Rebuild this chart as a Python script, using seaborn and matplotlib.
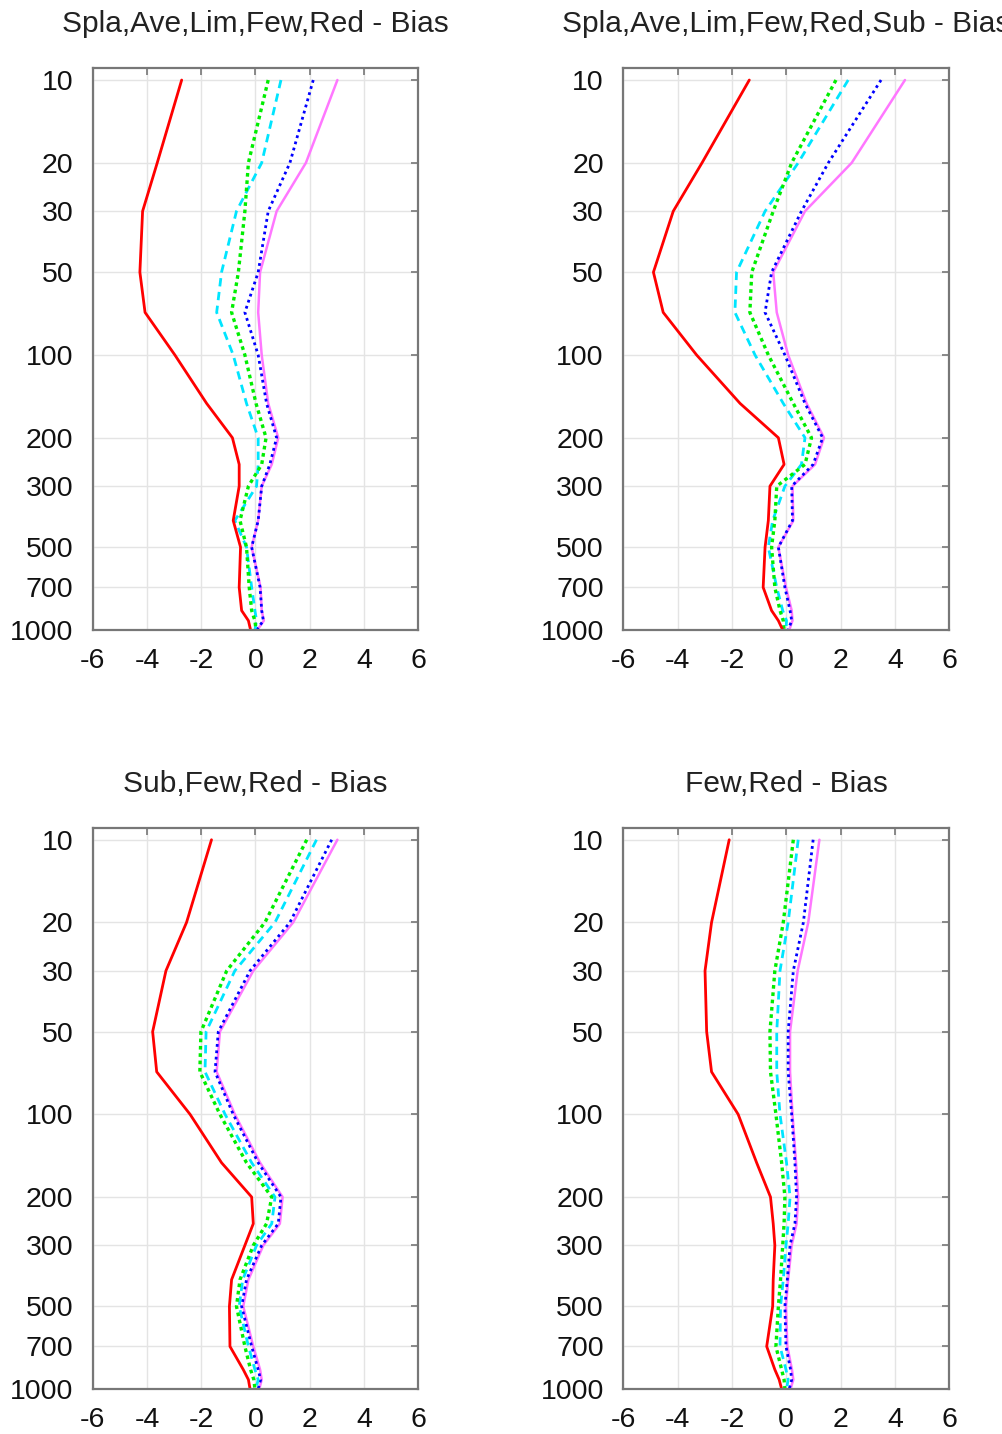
import numpy as np
import pandas as pd
import seaborn as sns
import matplotlib.pyplot as plt

# pressure levels (hPa)
levels = [10, 20, 30, 50, 70, 100, 150, 200, 250, 300, 400, 500, 700, 850, 925, 1000]

titles = ["Spla,Ave,Lim,Few,Red - Bias", "Spla,Ave,Lim,Few,Red,Sub - Bias",
          "Sub,Few,Red - Bias", "Few,Red - Bias"]

# panel 1
p1_red = [-2.72, -3.62, -4.16, -4.26, -4.07, -2.97, -1.80, -0.85, -0.60, -0.60, -0.82, -0.55, -0.60, -0.51, -0.26, -0.18]
p1_green = [0.47, -0.26, -0.39, -0.63, -0.88, -0.39, 0.02, 0.39, 0.23, -0.26, -0.57, -0.33, -0.23, -0.14, -0.02, 0.02]
p1_cyan = [0.94, 0.23, -0.70, -1.25, -1.43, -0.82, -0.33, 0.10, 0.10, 0.04, -0.76, -0.33, -0.14, -0.02, 0.04, -0.02]
p1_blue = [2.13, 1.27, 0.47, 0.10, -0.39, 0.10, 0.41, 0.78, 0.53, 0.23, 0.10, -0.14, 0.17, 0.23, 0.29, 0.04]
p1_pink = [3.02, 1.86, 0.78, 0.17, 0.10, 0.23, 0.47, 0.84, 0.60, 0.23, 0.10, -0.14, 0.19, 0.23, 0.31, 0.07]

# panel 2
p2_red = [-1.36, -3.10, -4.16, -4.89, -4.53, -3.30, -1.70, -0.29, -0.08, -0.60, -0.66, -0.78, -0.85, -0.54, -0.29, -0.13]
p2_green = [1.83, 0.20, -0.48, -1.27, -1.34, -0.66, 0.26, 0.93, 0.69, -0.35, -0.42, -0.54, -0.42, -0.23, -0.11, -0.08]
p2_cyan = [2.28, 0.44, -0.78, -1.83, -1.89, -1.15, -0.11, 0.69, 0.56, -0.05, -0.50, -0.66, -0.35, -0.13, 0.01, -0.01]
p2_blue = [3.49, 1.55, 0.56, -0.54, -0.78, -0.05, 0.69, 1.34, 0.99, 0.20, 0.23, -0.29, -0.05, 0.14, 0.20, 0.07]
p2_pink = [4.37, 2.41, 0.69, -0.48, -0.35, 0.07, 0.75, 1.39, 1.06, 0.23, 0.26, -0.29, -0.01, 0.20, 0.23, 0.11]

# panel 3
p3_red = [-1.62, -2.54, -3.30, -3.79, -3.64, -2.41, -1.25, -0.14, -0.08, -0.39, -0.88, -0.96, -0.94, -0.45, -0.26, -0.20]
p3_green = [1.89, 0.35, -1.06, -2.01, -2.05, -1.31, -0.33, 0.60, 0.41, -0.08, -0.57, -0.70, -0.39, -0.18, -0.06, -0.02]
p3_cyan = [2.25, 0.72, -0.76, -1.82, -1.86, -1.12, -0.14, 0.72, 0.60, 0.04, -0.47, -0.60, -0.26, -0.02, 0.10, 0.02]
p3_blue = [2.81, 1.27, -0.20, -1.37, -1.49, -0.82, 0.10, 0.94, 0.84, 0.23, -0.33, -0.51, -0.14, 0.10, 0.19, 0.10]
p3_pink = [3.02, 1.39, -0.08, -1.31, -1.43, -0.76, 0.17, 1.00, 0.90, 0.29, -0.26, -0.45, -0.08, 0.17, 0.23, 0.14]

# panel 4
p4_red = [-2.10, -2.75, -2.99, -2.93, -2.75, -1.77, -1.09, -0.58, -0.48, -0.42, -0.48, -0.50, -0.72, -0.42, -0.26, -0.17]
p4_green = [0.26, -0.11, -0.42, -0.60, -0.58, -0.38, -0.17, -0.05, -0.08, -0.13, -0.21, -0.29, -0.38, -0.17, -0.08, -0.05]
p4_cyan = [0.44, 0.07, -0.23, -0.35, -0.35, -0.23, 0.01, 0.14, 0.07, -0.01, -0.11, -0.21, -0.23, -0.01, 0.07, 0.01]
p4_blue = [0.99, 0.63, 0.26, 0.07, 0.07, 0.20, 0.32, 0.38, 0.32, 0.14, 0.04, -0.05, -0.01, 0.16, 0.20, 0.11]
p4_pink = [1.22, 0.81, 0.42, 0.14, 0.14, 0.23, 0.36, 0.44, 0.38, 0.20, 0.07, -0.01, 0.04, 0.21, 0.26, 0.16]

panels = [
    [p1_pink, p1_blue, p1_cyan, p1_green, p1_red],
    [p2_pink, p2_blue, p2_cyan, p2_green, p2_red],
    [p3_pink, p3_blue, p3_cyan, p3_green, p3_red],
    [p4_pink, p4_blue, p4_cyan, p4_green, p4_red],
]

# pink, blue, cyan, green, red
colors = ["#ff77ff", "#0000ff", "#00e5ff", "#00ee00", "#ff0000"]
styles = ["-", (0, (1, 1.3)), (0, (3, 2)), (0, (1.1, 1.1)), "-"]
widths = [1.8, 2.0, 2.0, 2.4, 2.0]

yticks = [10, 20, 30, 50, 100, 200, 300, 500, 700, 1000]
xticks = [-6, -4, -2, 0, 2, 4, 6]

sns.set_style("white")
plt.rcParams['font.family'] = ['Liberation Sans', 'DejaVu Sans']

fig = plt.figure(figsize=(10.03, 14.34), dpi=100)
positions = [
    [0.0924, 0.5607, 0.3246, 0.3919],
    [0.6214, 0.5607, 0.3250, 0.3919],
    [0.0924, 0.0314, 0.3246, 0.3914],
    [0.6214, 0.0314, 0.3250, 0.3914],
]

for k in range(4):
    ax = fig.add_axes(positions[k])
    for s, vals in enumerate(panels[k]):
        df = pd.DataFrame({"bias": vals, "p": levels})
        sns.lineplot(data=df, x="bias", y="p", orient="y", estimator=None,
                     sort=False, ax=ax, color=colors[s], linestyle=styles[s],
                     linewidth=widths[s])
    ax.set_yscale("log")
    ax.set_ylim(1000, 9.04)
    ax.set_xlim(-6, 6)
    ax.set_yticks(yticks)
    ax.set_yticklabels([str(t) for t in yticks])
    ax.minorticks_off()
    ax.set_xticks(xticks)
    ax.set_xticklabels([str(t) for t in xticks])
    ax.grid(True, color="#e4e4e4", linewidth=1)
    ax.set_xlabel("")
    ax.set_ylabel("")
    ax.tick_params(direction="in", length=5, width=1.2, color="#777777",
                   top=True, right=True, labelsize=20.5, labelcolor="#111111")
    ax.tick_params(axis="y", pad=14)
    ax.tick_params(axis="x", pad=13)
    for sp in ax.spines.values():
        sp.set_color("#777777")
        sp.set_linewidth(1.6)
    ax.set_title(titles[k], fontsize=21.5, color="#222222", pad=26)

fig.savefig("out.png", dpi=100)
